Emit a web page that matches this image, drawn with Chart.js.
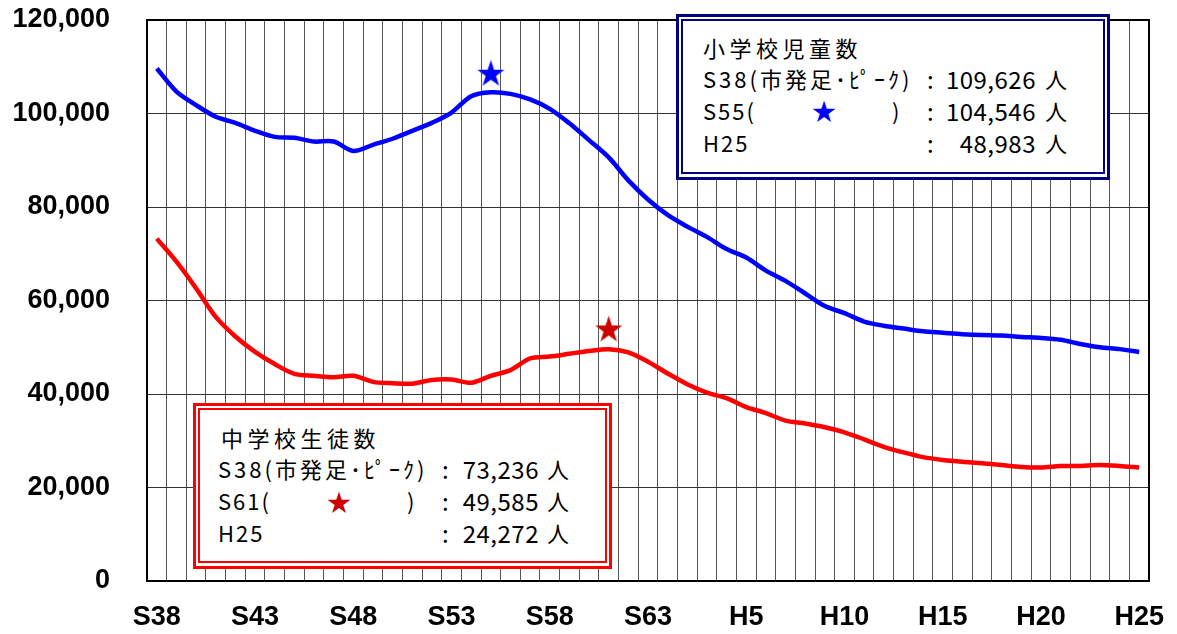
<!DOCTYPE html>
<html>
<head>
<meta charset="utf-8">
<script src="https://cdn.jsdelivr.net/npm/chart.js@4/dist/chart.umd.min.js"></script>
<style>
  html, body { margin: 0; padding: 0; background: #fff; }
  #wrap { position: relative; width: 1177px; height: 634px; overflow: hidden; }
  canvas { position: absolute; left: 0; top: 0; }
  .box { position: absolute; box-sizing: border-box; background: #fff; }
  .box .in { position: absolute; left: 2px; top: 2px; box-sizing: border-box; }
  .t { position: absolute; white-space: nowrap; line-height: 1; font-family: "Noto Sans CJK JP", "Noto Sans", sans-serif; color: #000; transform: translateY(-50%); }
</style>
</head>
<body>
<div id="wrap">
  <canvas id="c" width="1177" height="634"></canvas>
</div>
<script>
// ---- data ----
const years = [
  'S38','S39','S40','S41','S42','S43','S44','S45','S46','S47','S48','S49','S50','S51','S52','S53','S54','S55','S56','S57','S58','S59','S60','S61','S62','S63',
  'H1','H2','H3','H4','H5','H6','H7','H8','H9','H10','H11','H12','H13','H14','H15','H16','H17','H18','H19','H20','H21','H22','H23','H24','H25'
];
const tickEvery = 5;
const elementary = [
  109626, 104700, 101800, 99300, 98000, 96300, 95000, 94800, 94000, 94000,
  92000, 93300, 94600, 96300, 98000, 100200, 103700, 104546, 104200, 103000,
  101000, 97900, 94300, 90600, 85700, 81600, 78300, 75800, 73600, 71000,
  69200, 66400, 64200, 61500, 58800, 57300, 55500, 54600, 54000, 53400,
  53100, 52800, 52600, 52500, 52200, 52000, 51600, 50700, 50000, 49600,
  48983
];
const juniorHigh = [
  73236, 68300, 62600, 56500, 52300, 49000, 46400, 44300, 43900, 43600,
  43900, 42600, 42300, 42200, 43000, 43100, 42400, 43900, 45100, 47600,
  48000, 48600, 49200, 49585, 48900, 46900, 44400, 42100, 40300, 39100,
  37200, 35900, 34300, 33700, 32900, 31800, 30300, 28700, 27500, 26500,
  25900, 25500, 25200, 24800, 24400, 24300, 24600, 24600, 24800, 24600,
  24272
];
const starLabels = ['S55', 'S61'];
const starValues = [108400, 53700];
const yMin = 0, yMax = 120000, yStep = 20000;

// ---- star marker image ----
function starImage(color, R) {
  const c = document.createElement('canvas');
  const s = Math.ceil(R * 2) + 2;
  c.width = s; c.height = s;
  const g = c.getContext('2d');
  g.fillStyle = color;
  g.beginPath();
  for (let k = 0; k < 10; k++) {
    const r = k % 2 ? R * 0.382 : R;
    const a = -Math.PI / 2 + k * Math.PI / 5;
    const px = s / 2 + r * Math.cos(a), py = s / 2 + r * Math.sin(a);
    if (k === 0) g.moveTo(px, py); else g.lineTo(px, py);
  }
  g.closePath();
  g.fill();
  return c;
}

const frame = {
  id: 'frame',
  afterDraw(chart) {
    const { ctx, chartArea: a } = chart;
    ctx.save();
    ctx.strokeStyle = '#000';
    ctx.lineWidth = 2;
    ctx.strokeRect(a.left, a.top, a.right - a.left, a.bottom - a.top);
    ctx.restore();
  }
};

new Chart(document.getElementById('c'), {
  type: 'line',
  data: {
    labels: years,
    datasets: [
      { data: elementary, borderColor: '#0000FF', borderWidth: 4.5, pointRadius: 0, tension: 0.3, fill: false },
      { data: juniorHigh, borderColor: '#FF0000', borderWidth: 4.5, pointRadius: 0, tension: 0.3, fill: false },
      { data: [{ x: starLabels[0], y: starValues[0] }], showLine: false, pointStyle: starImage('#0000FF', 14.2), pointRadius: 14 },
      { data: [{ x: starLabels[1], y: starValues[1] }], showLine: false, pointStyle: starImage('#CC0000', 14.2), pointRadius: 14 }
    ]
  },
  options: {
    responsive: false,
    animation: false,
    devicePixelRatio: 1,
    layout: { autoPadding: false, padding: { top: 20, right: 28, left: 0, bottom: 0 } },
    plugins: { legend: { display: false }, tooltip: { enabled: false } },
    scales: {
      x: {
        type: 'category',
        offset: true,
        afterFit(s) { s.height = 53; s.paddingLeft = 0; s.paddingRight = 0; },
        grid: { display: true, offset: true, color: '#555', lineWidth: 1, drawTicks: false },
        border: { display: false },
        ticks: {
          autoSkip: false, maxRotation: 0, minRotation: 0, padding: 20,
          color: '#000', font: { family: 'Liberation Sans, Arial, sans-serif', size: 27, weight: 'bold' },
          callback(v, i) { return i % tickEvery === 0 ? years[i] : ''; }
        }
      },
      y: {
        min: yMin, max: yMax,
        afterFit(s) { s.width = 147; s.paddingTop = 0; s.paddingBottom = 0; },
        grid: { color: '#333', lineWidth: 1, drawTicks: false },
        border: { display: false },
        ticks: {
          stepSize: yStep, padding: 37, color: '#000',
          font: { family: 'Liberation Sans, Arial, sans-serif', size: 27, weight: 'bold' },
          callback(v) { return v.toLocaleString('en-US'); }
        }
      }
    }
  },
  plugins: [frame]
});

// ---- annotation boxes (HTML text) ----
const wrap = document.getElementById('wrap');
function box(left, top, w, h, color, bw, iw, ih) {
  const o = document.createElement('div');
  o.className = 'box';
  Object.assign(o.style, { left: left + 'px', top: top + 'px', width: w + 'px', height: h + 'px', border: bw + 'px solid ' + color });
  const i = document.createElement('div');
  i.className = 'in';
  Object.assign(i.style, { width: iw + 'px', height: ih + 'px', border: '2px solid ' + color });
  o.appendChild(i);
  wrap.appendChild(o);
}
function txt(s, x, y, opts) {
  opts = opts || {};
  const e = document.createElement('div');
  e.className = 't';
  e.textContent = s;
  e.style.top = (y - 1) + 'px';
  e.style.fontSize = (opts.size || 22) + 'px';
  if (opts.ls) e.style.letterSpacing = opts.ls + 'px';
  if (opts.color) e.style.color = opts.color;
  if (opts.right) { e.style.right = (1177 - x) + 'px'; }
  else if (opts.center) { e.style.left = x + 'px'; e.style.transform = 'translate(-50%,-50%)'; }
  else e.style.left = x + 'px';
  wrap.appendChild(e);
}

// elementary box
box(676, 14, 434, 166, '#000080', 3, 424, 155);
txt('小学校児童数', 703, 48, { ls: 4.5 });
txt('S38(市発足･ﾋﾟｰｸ)', 703, 79, { ls: 3 });
txt(':', 927, 80, { size: 24 });
txt('109,626', 1036, 80, { size: 24, right: true, ls: 0.5 });
txt('人', 1045, 79);
txt('S55(', 703, 111, { ls: 2 });
txt('★', 824, 111, { center: true, size: 24, color: '#0000FF' });
txt(')', 892, 111);
txt(':', 927, 112, { size: 24 });
txt('104,546', 1036, 112, { size: 24, right: true, ls: 0.5 });
txt('人', 1045, 111);
txt('H25', 703, 143, { ls: 2 });
txt(':', 927, 144, { size: 24 });
txt('48,983', 1036, 144, { size: 24, right: true, ls: 0.5 });
txt('人', 1045, 143);

// junior high box
box(193, 403, 419, 166, '#FF0000', 3, 409, 155);
txt('中学校生徒数', 221, 438, { ls: 4.5 });
txt('S38(市発足･ﾋﾟｰｸ)', 218, 469, { ls: 3 });
txt(':', 442, 470, { size: 24 });
txt('73,236', 539, 470, { size: 24, right: true, ls: 0.5 });
txt('人', 547, 469);
txt('S61(', 218, 501, { ls: 2 });
txt('★', 339, 502, { center: true, size: 24, color: '#CC0000' });
txt(')', 407, 501);
txt(':', 442, 502, { size: 24 });
txt('49,585', 539, 502, { size: 24, right: true, ls: 0.5 });
txt('人', 547, 501);
txt('H25', 218, 533, { ls: 2 });
txt(':', 442, 534, { size: 24 });
txt('24,272', 539, 534, { size: 24, right: true, ls: 0.5 });
txt('人', 547, 533);
</script>
</body>
</html>
